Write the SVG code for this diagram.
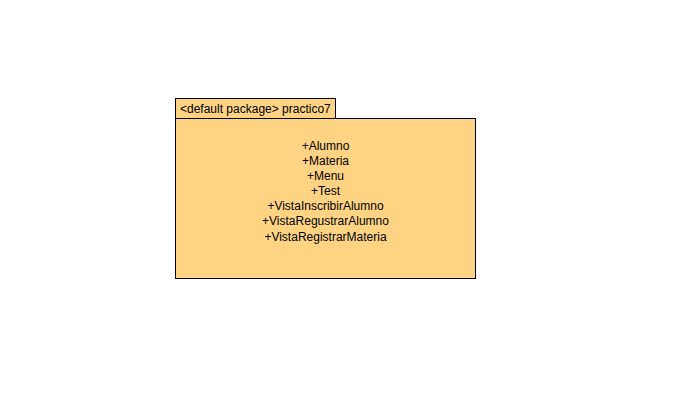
<svg xmlns="http://www.w3.org/2000/svg" width="690" height="408" viewBox="0 0 690 408">
<style>
.box{fill:#FFD384;stroke:#000;stroke-width:1}
.t{font-family:"Liberation Sans",Arial,sans-serif;font-size:12px;fill:#000}
</style>
<rect width="690" height="408" fill="#fff"/>
<g id="package-practico7">
<rect class="box" x="175.5" y="98.5" width="160" height="20"/>
<rect class="box" x="175.5" y="118.5" width="300" height="160"/>
<text class="t" x="180" y="113">&lt;default package&gt; practico7</text>
<g text-anchor="middle">
<text class="t" x="325.5" y="150">+Alumno</text>
<text class="t" x="325.5" y="165">+Materia</text>
<text class="t" x="325.5" y="180">+Menu</text>
<text class="t" x="325.5" y="195">+Test</text>
<text class="t" x="325.5" y="210">+VistaInscribirAlumno</text>
<text class="t" x="325.5" y="225">+VistaRegustrarAlumno</text>
<text class="t" x="325.5" y="241">+VistaRegistrarMateria</text>
</g>
</g>
<g id="connectors"/>
</svg>
